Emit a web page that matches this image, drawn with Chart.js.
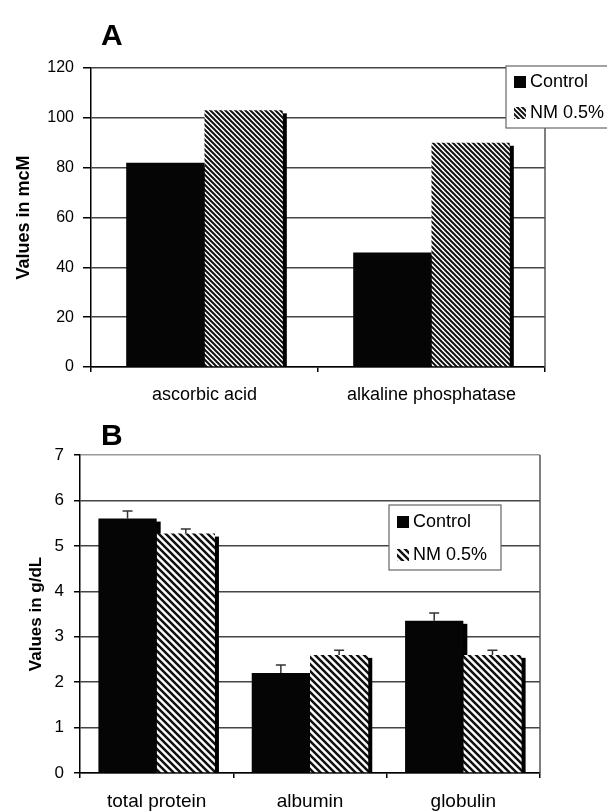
<!DOCTYPE html>
<html>
<head>
<meta charset="utf-8">
<script src="https://cdn.jsdelivr.net/npm/chart.js@4.4.0/dist/chart.umd.min.js"></script>
<style>
  body { margin: 0; background: #fff; }
  #wrap { position: relative; width: 607px; height: 811px; overflow: hidden; background: #fff; }
  canvas { position: absolute; left: 0; }
  #chartA { top: 0; }
  #chartB { top: 410px; }
</style>
</head>
<body>
<div id="wrap">
  <canvas id="chartA" width="607" height="410"></canvas>
  <canvas id="chartB" width="607" height="401"></canvas>
</div>
<script>
// --- Panel A data (mcM) ---
const labelsA = ['ascorbic acid', 'alkaline phosphatase'];
const controlA = [82, 46];
const nmA = [103, 90];
const ticksA = [0, 20, 40, 60, 80, 100, 120];

// --- Panel B data (g/dL) ---
const labelsB = ['total protein', 'albumin', 'globulin'];
const controlB = [5.6, 2.2, 3.35];
const nmB = [5.27, 2.6, 2.6];
const controlErrB = [0.17, 0.18, 0.17];
const nmErrB = [0.1, 0.1, 0.1];
const ticksB = [0, 1, 2, 3, 4, 5, 6, 7];

const seriesNames = ['Control', 'NM 0.5%'];
const FONT = '"Liberation Sans", Arial, sans-serif';

// diagonal "\\\" hatch used for the NM bars
function hatch(period, lineWidth) {
    const c = document.createElement('canvas');
    c.width = c.height = period;
    const g = c.getContext('2d');
    g.fillStyle = '#fff';
    g.fillRect(0, 0, period, period);
    g.strokeStyle = '#111';
    g.lineWidth = lineWidth;
    g.beginPath();
    for (let k = -1; k <= 1; k++) {
        g.moveTo(k * period - 1, -1);
        g.lineTo(k * period + period + 1, period + 1);
    }
    g.stroke();
    return g.createPattern(c, 'repeat');
}

// dark drop shadow on the right side of each bar
const barShadow = {
    id: 'barShadow',
    beforeDatasetsDraw(chart, args, opts) {
        const ctx = chart.ctx;
        ctx.save();
        ctx.fillStyle = '#000';
        chart.data.datasets.forEach((ds, i) => {
            chart.getDatasetMeta(i).data.forEach(bar => {
                const p = bar.getProps(['x', 'y', 'base', 'width'], true);
                ctx.fillRect(p.x - p.width / 2 + opts.dx, p.y + opts.dy, p.width, p.base - p.y - opts.dy);
            });
        });
        ctx.restore();
    }
};

// upper error whiskers (panel B only)
const errorBars = {
    id: 'errorBars',
    afterDatasetsDraw(chart, args, opts) {
        if (!opts.errors) return;
        const ctx = chart.ctx;
        const y = chart.scales.y;
        ctx.save();
        ctx.strokeStyle = '#333';
        ctx.lineWidth = 1.5;
        opts.errors.forEach((errs, i) => {
            chart.getDatasetMeta(i).data.forEach((bar, j) => {
                const v = chart.data.datasets[i].data[j];
                const top = y.getPixelForValue(v + errs[j]);
                ctx.beginPath();
                ctx.moveTo(bar.x, bar.y);
                ctx.lineTo(bar.x, top);
                ctx.moveTo(bar.x - 5, top);
                ctx.lineTo(bar.x + 5, top);
                ctx.stroke();
            });
        });
        ctx.restore();
    }
};

// right border, panel letter and the boxed legend
const frame = {
    id: 'frame',
    afterDraw(chart, args, opts) {
        const ctx = chart.ctx;
        const a = chart.chartArea;
        ctx.save();
        ctx.strokeStyle = '#555';
        ctx.lineWidth = 1.5;
        ctx.beginPath();
        ctx.moveTo(a.right, a.top);
        ctx.lineTo(a.right, a.bottom);
        ctx.stroke();

        ctx.fillStyle = '#000';
        ctx.font = 'bold 30px ' + FONT;
        ctx.textBaseline = 'alphabetic';
        ctx.fillText(opts.letter, opts.letterX, opts.letterY);

        const L = opts.legend;
        ctx.fillStyle = '#fff';
        ctx.fillRect(L.x, L.y, L.w, L.h);
        ctx.strokeStyle = '#666';
        ctx.lineWidth = 1.2;
        ctx.strokeRect(L.x, L.y, L.w, L.h);
        ctx.font = '18px ' + FONT;
        ctx.textBaseline = 'middle';
        chart.data.datasets.forEach((ds, i) => {
            const cy = L.y + L.rows[i];
            ctx.fillStyle = ds.backgroundColor;
            ctx.fillRect(L.x + 8, cy - 6, 12, 12);
            ctx.fillStyle = '#000';
            ctx.fillText(ds.label, L.x + 24, cy);
        });
        ctx.restore();
    }
};

function makeChart(id, cfg) {
    const ticks = cfg.ticks;
    const top = ticks[ticks.length - 1];
    return new Chart(document.getElementById(id), {
        type: 'bar',
        data: {
            labels: cfg.labels,
            datasets: [
                { label: seriesNames[0], data: cfg.control, backgroundColor: '#050505', borderWidth: 0 },
                { label: seriesNames[1], data: cfg.nm, backgroundColor: cfg.pattern, borderWidth: 0 }
            ]
        },
        options: {
            responsive: false,
            animation: false,
            devicePixelRatio: 1,
            categoryPercentage: cfg.catPct,
            barPercentage: 1,
            layout: { padding: cfg.padding },
            plugins: {
                legend: { display: false },
                tooltip: { enabled: false },
                barShadow: { dx: 4, dy: 3 },
                errorBars: { errors: cfg.errors },
                frame: { letter: cfg.letter, letterX: 101, letterY: cfg.letterY, legend: cfg.legend }
            },
            scales: {
                x: {
                    offset: true,
                    grid: { display: true, drawOnChartArea: false, offset: true, tickLength: 5, color: '#000', lineWidth: 1.5 },
                    border: { color: '#000', width: 1.5 },
                    ticks: { color: '#000', font: { family: FONT, size: cfg.xFont }, padding: cfg.xPad, maxRotation: 0, autoSkip: false },
                    afterFit(s) { s.height = cfg.xHeight; }
                },
                y: {
                    min: ticks[0],
                    max: top,
                    ticks: { stepSize: ticks[1] - ticks[0], color: '#000', font: { family: FONT, size: cfg.yFont }, padding: cfg.yPad },
                    grid: {
                        color: c => (c.tick && c.tick.value === top ? cfg.topGrid : '#444'),
                        lineWidth: 1.5, tickLength: cfg.tickLen, tickColor: '#000'
                    },
                    border: { color: '#000', width: 1.5 },
                    title: { display: true, text: cfg.yTitle, color: '#000', font: { family: FONT, size: cfg.titleFont, weight: 'bold' }, padding: { top: cfg.titlePad, bottom: 0 } },
                    afterFit(s) { s.width = cfg.yWidth; }
                }
            }
        },
        plugins: [barShadow, errorBars, frame]
    });
}

makeChart('chartA', {
    labels: labelsA, control: controlA, nm: nmA, ticks: ticksA,
    pattern: hatch(5, 2), catPct: 0.69,
    padding: { top: 68, right: 62, bottom: 0, left: 0 },
    xHeight: 43, xFont: 18, xPad: 12,
    yWidth: 91, yFont: 16, yPad: 9, tickLen: 8, topGrid: '#444',
    yTitle: 'Values in mcM', titleFont: 18, titlePad: 13,
    letter: 'A', letterY: 45,
    legend: { x: 506, y: 66, w: 110, h: 62, rows: [16, 47] }
});

makeChart('chartB', {
    labels: labelsB, control: controlB, nm: nmB, ticks: ticksB,
    pattern: hatch(7, 2.5), catPct: 0.76,
    errors: [controlErrB, nmErrB],
    padding: { top: 45, right: 67, bottom: 0, left: 0 },
    xHeight: 38, xFont: 19, xPad: 12,
    yWidth: 80, yFont: 17, yPad: 10, tickLen: 6, topGrid: '#999',
    yTitle: 'Values in g/dL', titleFont: 17, titlePad: 26,
    letter: 'B', letterY: 35,
    legend: { x: 389, y: 95, w: 112, h: 65, rows: [17, 50] }
});
</script>
</body>
</html>
